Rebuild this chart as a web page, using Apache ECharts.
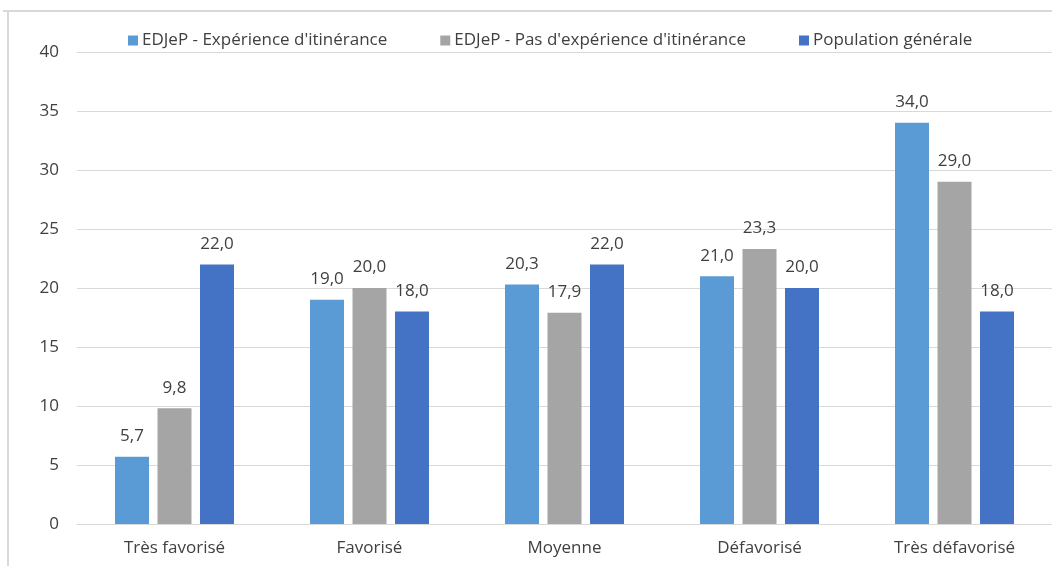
<!DOCTYPE html>
<html>
<head>
<meta charset="utf-8">
<script src="https://cdn.jsdelivr.net/npm/echarts@6/dist/echarts.min.js"></script>
<style>
html,body{margin:0;padding:0;background:#fff;}
#c{width:1052px;height:566px;}
</style>
</head>
<body>
<div id="c"></div>
<script>
const categories = ["Très favorisé", "Favorisé", "Moyenne", "Défavorisé", "Très défavorisé"];
const seriesNames = ["EDJeP - Expérience d'itinérance", "EDJeP - Pas d'expérience d'itinérance", "Population générale"];
const experience = [5.7, 19.0, 20.3, 21.0, 34.0];
const pasExperience = [9.8, 20.0, 17.9, 23.3, 29.0];
const populationGenerale = [22.0, 18.0, 22.0, 20.0, 18.0];
const colors = ["#5B9BD5", "#A5A5A5", "#4472C4"];

const FONT = "Open Sans";
const FS = 17;
const chart = echarts.init(document.getElementById('c'));
const label = {
  show: true, position: 'top', distance: 12,
  color: '#404040', fontFamily: FONT, fontSize: FS,
  formatter: p => p.value.toFixed(1).replace('.', ',')
};
const mk = (name, data, i) => ({
  name, type: 'bar', data, barWidth: 34, barGap: '25%',
  itemStyle: { color: colors[i] }, label
});
chart.setOption({
  animation: false,
  textStyle: { fontFamily: FONT },
  graphic: [
    { type: 'line', shape: { x1: 3, y1: 11, x2: 1052, y2: 11 }, style: { stroke: '#D9D9D9', lineWidth: 2 } },
    { type: 'line', shape: { x1: 8, y1: 11, x2: 8, y2: 566 }, style: { stroke: '#D9D9D9', lineWidth: 2 } }
  ],
  legend: {
    top: 32, left: 128, padding: 0, itemWidth: 10, itemHeight: 10, itemGap: 53,
    icon: 'rect',
    textStyle: { color: '#404040', fontFamily: FONT, fontSize: FS, padding: [0, 0, 0, -1] },
    data: seriesNames
  },
  grid: { left: 77, right: 0, top: 52, bottom: 42, containLabel: false },
  xAxis: {
    type: 'category', data: categories,
    axisLine: { lineStyle: { color: '#D9D9D9', width: 1 } },
    axisTick: { show: false },
    axisLabel: { color: '#404040', fontFamily: FONT, fontSize: FS, margin: 16 }
  },
  yAxis: {
    type: 'value', min: 0, max: 40, interval: 5,
    axisLine: { show: false }, axisTick: { show: false },
    splitLine: { lineStyle: { color: '#D9D9D9', width: 1 } },
    axisLabel: { color: '#404040', fontFamily: FONT, fontSize: FS, margin: 18 }
  },
  series: [
    mk(seriesNames[0], experience, 0),
    mk(seriesNames[1], pasExperience, 1),
    mk(seriesNames[2], populationGenerale, 2)
  ]
});
</script>
</body>
</html>
